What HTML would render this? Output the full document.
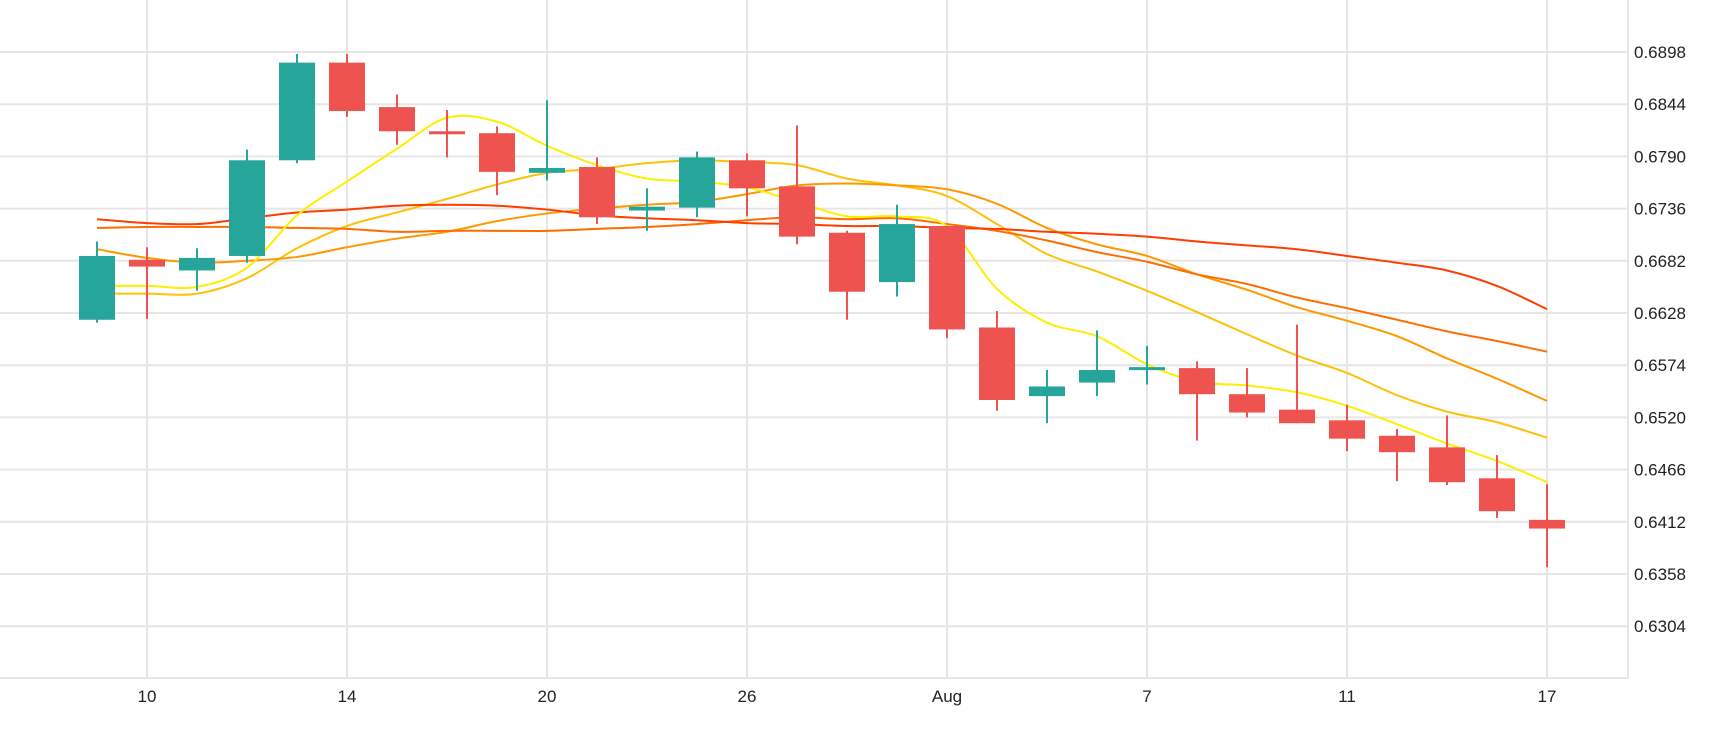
<!DOCTYPE html>
<html><head><meta charset="utf-8"><style>
html,body{margin:0;padding:0;background:#fff;}
svg{display:block;font-family:"Liberation Sans",sans-serif;}
</style></head><body>
<svg id="chart" width="1730" height="730" xmlns="http://www.w3.org/2000/svg">
<g id="grid"></g>
<g id="lines"></g>
<g id="candles"></g>
<g id="axes"></g>
</svg>
<script>
const xLabels = {1:"10",5:"14",9:"20",13:"26",17:"Aug",21:"7",25:"11",29:"17"};
const yTicks = [0.6898,0.6844,0.6790,0.6736,0.6682,0.6628,0.6574,0.6520,0.6466,0.6412,0.6358,0.6304];
const opens  = [0.6621,0.6683,0.6672,0.6687,0.6786,0.6887,0.6841,0.6816,0.6814,0.6773,0.6779,0.6734,0.6737,0.6786,0.6759,0.6711,0.6660,0.6718,0.6613,0.6542,0.6556,0.6570,0.6571,0.6544,0.6528,0.6517,0.6501,0.6489,0.6457,0.6414];
const highs  = [0.6702,0.6696,0.6695,0.6797,0.6896,0.6896,0.6854,0.6838,0.6821,0.6848,0.6789,0.6757,0.6795,0.6793,0.6822,0.6713,0.6740,0.6718,0.6630,0.6569,0.6610,0.6594,0.6578,0.6571,0.6616,0.6533,0.6508,0.6522,0.6481,0.6451];
const lows   = [0.6618,0.6622,0.6651,0.6680,0.6783,0.6831,0.6802,0.6789,0.6750,0.6765,0.6720,0.6713,0.6727,0.6728,0.6699,0.6621,0.6645,0.6602,0.6527,0.6514,0.6542,0.6554,0.6496,0.6520,0.6514,0.6485,0.6454,0.6450,0.6416,0.6365];
const closes = [0.6687,0.6676,0.6685,0.6786,0.6887,0.6837,0.6816,0.6814,0.6774,0.6778,0.6727,0.6738,0.6789,0.6757,0.6707,0.6650,0.6720,0.6611,0.6538,0.6552,0.6569,0.6572,0.6544,0.6525,0.6514,0.6498,0.6484,0.6453,0.6423,0.6405];
const maYellow = [0.6656,0.6656,0.6655,0.6675,0.6729,0.6764,0.6798,0.6830,0.6826,0.6801,0.6781,0.6767,0.6764,0.6758,0.6743,0.6728,0.6728,0.6718,0.6653,0.6618,0.6604,0.6575,0.6557,0.6553,0.6546,0.6532,0.6513,0.6493,0.6475,0.6453];
const maGold = [0.6648,0.6648,0.6648,0.6664,0.6695,0.6718,0.6732,0.6746,0.6761,0.6773,0.6777,0.6783,0.6786,0.6784,0.6781,0.6767,0.6760,0.6749,0.6720,0.6689,0.6671,0.6651,0.6629,0.6606,0.6584,0.6566,0.6543,0.6526,0.6515,0.6499];
const maOrange = [0.6694,0.6685,0.6680,0.6682,0.6686,0.6696,0.6705,0.6712,0.6723,0.6731,0.6736,0.6740,0.6743,0.6751,0.6760,0.6762,0.6760,0.6756,0.6741,0.6716,0.6699,0.6687,0.6668,0.6652,0.6634,0.6620,0.6604,0.6581,0.6560,0.6537];
const maDarkOrange = [0.6716,0.6717,0.6717,0.6717,0.6716,0.6715,0.6712,0.6713,0.6713,0.6713,0.6715,0.6717,0.6720,0.6724,0.6727,0.6725,0.6726,0.6720,0.6713,0.6703,0.6691,0.6681,0.6668,0.6658,0.6644,0.6633,0.6621,0.6609,0.6599,0.6588];
const maRed = [0.6725,0.6721,0.6720,0.6726,0.6732,0.6735,0.6739,0.6740,0.6739,0.6735,0.6729,0.6726,0.6724,0.6721,0.6720,0.6718,0.6718,0.6716,0.6715,0.6712,0.6710,0.6707,0.6702,0.6698,0.6694,0.6687,0.6680,0.6672,0.6656,0.6632];

const NS="http://www.w3.org/2000/svg";
const plotR=1628, plotB=678;
function xS(i){return 97+i*50;}
function yS(v){return 52+(0.6898-v)/0.0054*52.2;}
function mk(tag,parent,attrs){const e=document.createElementNS(NS,tag);for(const k in attrs)e.setAttribute(k,attrs[k]);parent.appendChild(e);return e;}
const grid=document.getElementById('grid'), axes=document.getElementById('axes');
yTicks.forEach(t=>{
  const l=mk('line',grid,{x1:0,x2:plotR,y1:yS(t),y2:yS(t),stroke:'#e6e6e6','stroke-width':2});
  
  
  const tx=mk('text',axes,{x:1634,y:yS(t)+6,'font-size':17,fill:'#222'});
  tx.textContent=t.toFixed(4);
  
  
});
Object.keys(xLabels).forEach(k=>{
  const i=+k;
  const l=mk('line',grid,{x1:xS(i),x2:xS(i),y1:0,y2:plotB,stroke:'#e6e6e6','stroke-width':2});
  
  
  const tx=mk('text',axes,{x:xS(i),y:702,'font-size':17,fill:'#222','text-anchor':'middle'});
  tx.textContent=xLabels[k];
  
  
});
const bx=mk('line',grid,{x1:0,x2:plotR,y1:plotB,y2:plotB,stroke:'#e6e6e6','stroke-width':2});


const by=mk('line',grid,{x1:plotR,x2:plotR,y1:0,y2:plotB,stroke:'#e6e6e6','stroke-width':2});



function smoothPath(vals){
  const p=vals.map((v,i)=>[xS(i),yS(v)]);
  let d='M'+p[0][0]+','+p[0][1];
  for(let i=0;i<p.length-1;i++){
    const p0=p[i-1]||p[i],p1=p[i],p2=p[i+1],p3=p[i+2]||p2;
    const c1=[p1[0]+(p2[0]-p0[0])/6,p1[1]+(p2[1]-p0[1])/6];
    const c2=[p2[0]-(p3[0]-p1[0])/6,p2[1]-(p3[1]-p1[1])/6];
    d+=' C'+c1+' '+c2+' '+p2;
  }
  return d;
}
const linesG=document.getElementById('lines');
[[maGold,'#ffc107','ma-gold'],[maOrange,'#ff9800','ma-orange'],[maDarkOrange,'#ff6d00','ma-dark-orange'],[maRed,'#ff3d00','ma-red'],[maYellow,'#ffee00','ma-yellow']].forEach(s=>{
  const pth=mk('path',linesG,{d:smoothPath(s[0]),fill:'none',stroke:s[1],'stroke-width':2});
  
  
});
const cg=document.getElementById('candles');
opens.forEach((o,i)=>{
  const c=closes[i], up=c>=o, col=up?'#26a69a':'#ef5350';
  const g=mk('g',cg,{});
  
  
  mk('line',g,{x1:xS(i),x2:xS(i),y1:yS(highs[i]),y2:yS(lows[i]),stroke:col,'stroke-width':2});
  const top=yS(Math.max(o,c)), h=Math.max(3,Math.abs(yS(o)-yS(c)));
  mk('rect',g,{x:xS(i)-18,y:top,width:36,height:h,fill:col});
});
</script>
</body></html>
